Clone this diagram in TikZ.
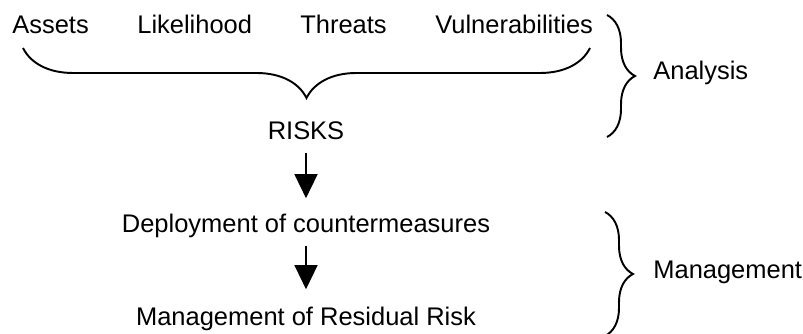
\documentclass[tikz,border=0pt]{standalone}
\usepackage{fontspec}
\setmainfont{Liberation Sans}
\usetikzlibrary{arrows.meta,decorations.pathreplacing}

\begin{document}
\begin{tikzpicture}[
      x=0.02cm,y=-0.02cm,
      lab/.style={font=\fontsize{14.5}{17}\selectfont,inner sep=0pt},
      curly/.style={decorate,decoration={brace,amplitude=#1},line width=1.1pt},
      flow/.style={-{Triangle[length=0.48cm,width=0.46cm]},line width=0.8pt}
    ]
      \useasboundingbox (0,0) rectangle (803,334);

      % factors
      \node[lab,anchor=base west] (assets) at (12,34) {Assets};
      \node[lab,anchor=base west] (likely) at (137,34) {Likelihood};
      \node[lab,anchor=base west] (threats) at (300,34) {Threats};
      \node[lab,anchor=base west] (vuln) at (435,34) {Vulnerabilities};

      \coordinate (bl) at (23,48);
      \coordinate (br) at (590,48);
      \draw[curly=1cm] (br) -- (bl);

      % chain
      \node[lab,anchor=base] (risks) at (306,140) {RISKS};
      \node[lab,anchor=base] (deploy) at (306,232) {Deployment of countermeasures};
      \node[lab,anchor=base] (resid) at (306,325) {Management of Residual Risk};

      \draw[flow,shorten <=0.24cm,shorten >=0.3cm] (risks) -- (deploy);
      \draw[flow,shorten <=0.16cm,shorten >=0.34cm] (deploy) -- (resid);

      % phases
      \coordinate (at) at (607,15);
      \coordinate (ab) at (607,137);
      \draw[curly=0.56cm] (at) -- (ab);
      \node[lab,anchor=base west] (analysis) at (653,80) {Analysis};

      \coordinate (mt) at (605,212);
      \coordinate (mb) at (605,336);
      \draw[curly=0.56cm] (mt) -- (mb);
      \node[lab,anchor=base west] (manage) at (653,278) {Management};

    \end{tikzpicture}
\end{document}
